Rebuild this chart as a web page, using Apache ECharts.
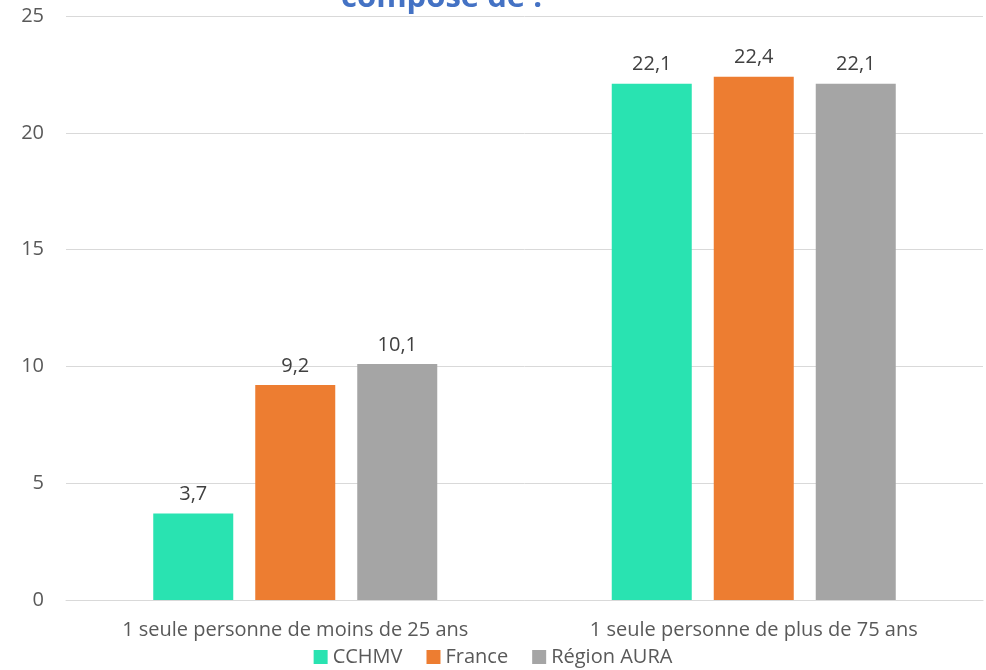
<!DOCTYPE html>
<html>
<head>
<meta charset="utf-8">
<script src="https://cdn.jsdelivr.net/npm/echarts@6/dist/echarts.min.js"></script>
<style>
  html, body { margin: 0; padding: 0; background: #fff; }
  #chart { width: 986px; height: 670px; }
</style>
</head>
<body>
<div id="chart"></div>
<script>
// données
const categories = ['1 seule personne de moins de 25 ans', '1 seule personne de plus de 75 ans'];
const cchmv = [3.7, 22.1];
const france = [9.2, 22.4];
const regionAura = [10.1, 22.1];

const chart = echarts.init(document.getElementById('chart'));
const font = 'Open Sans';

const labelOpt = {
  show: true,
  position: 'top',
  distance: 9,
  color: '#404040',
  fontSize: 20,
  fontFamily: font,
  formatter: p => String(p.value).replace('.', ',')
};

const option = {
  animation: false,
  title: {
    text: 'composé de :',
    left: 336,
    top: -22,
    textStyle: { color: '#4472C4', fontSize: 31, fontWeight: 'bold', fontFamily: font }
  },
  legend: {
    bottom: -2,
    left: 'center',
    itemWidth: 14,
    itemHeight: 14,
    itemGap: 24,
    icon: 'rect',
    textStyle: { color: '#595959', fontSize: 20, fontFamily: font },
    data: ['CCHMV', 'France', 'Région AURA']
  },
  grid: { left: 66, right: 3, top: 16, bottom: 70 },
  xAxis: {
    type: 'category',
    data: categories,
    axisLine: { lineStyle: { color: '#D9D9D9', width: 1 } },
    axisTick: { show: false },
    axisLabel: { color: '#595959', fontSize: 20, fontFamily: font, margin: 20 }
  },
  yAxis: {
    type: 'value',
    min: 0,
    max: 25,
    interval: 5,
    axisLine: { show: false },
    axisTick: { show: false },
    splitLine: { lineStyle: { color: '#D9D9D9', width: 1 } },
    axisLabel: { color: '#595959', fontSize: 20, fontFamily: font, margin: 22 }
  },
  series: [
    { name: 'CCHMV', type: 'bar', data: cchmv, barWidth: 80, barGap: '27.5%', itemStyle: { color: '#29E3B1' }, label: labelOpt },
    { name: 'France', type: 'bar', data: france, barWidth: 80, barGap: '27.5%', itemStyle: { color: '#ED7D31' }, label: labelOpt },
    { name: 'Région AURA', type: 'bar', data: regionAura, barWidth: 80, barGap: '27.5%', itemStyle: { color: '#A5A5A5' }, label: labelOpt }
  ]
};

chart.setOption(option);
</script>
</body>
</html>
